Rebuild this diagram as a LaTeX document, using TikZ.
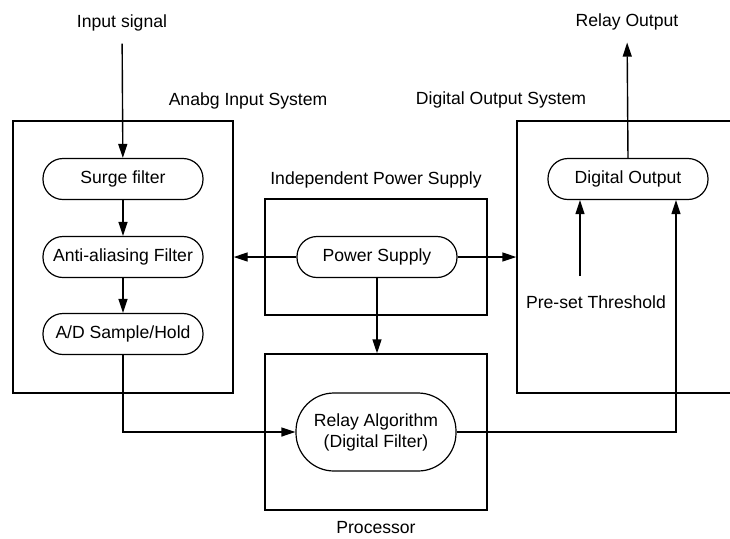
\documentclass[tikz,border=0pt]{standalone}
\usepackage{fontspec}
\setmainfont{Liberation Sans}
\usepackage{tikz}
\usetikzlibrary{arrows.meta, positioning}
\tikzstyle{stage} = [rectangle, rounded corners=10pt, minimum width=80pt, minimum height=20.5pt, inner sep=1pt, text centered, draw=black, line width=0.6pt]
\tikzstyle{unit} = [rectangle, draw=black, line width=0.7pt]
\tikzstyle{caption} = [inner sep=2pt, text centered]
\tikzstyle{arrow} = [line width=0.7pt, -{Triangle[length=7pt, width=4.5pt]}]
\tikzset{every node/.style={align=center, font=\fontsize{8.8}{10.5}\selectfont}}

\begin{document}
\begin{tikzpicture}[x=0.5pt, y=-0.5pt]
    \useasboundingbox (0,0) rectangle (730,538);
    \clip (0,0) rectangle (730,538);

    % system boxes
    \node (analog) [unit, minimum width=110pt, minimum height=136pt] at (123,257) {};
    \node (psbox) [unit, minimum width=111pt, minimum height=58pt] at (376,257) {};
    \node (proc) [unit, minimum width=111pt, minimum height=78pt] at (376,432) {};
    \node (dsys) [unit, minimum width=130pt, minimum height=136pt] at (647,257) {};

    \node (lanalog) [caption] at (248,101) {Anabg Input System};
    \node (ldsys) [caption] at (501,100) {Digital Output System};
    \node (lpsbox) [caption] at (376,180) {Independent Power Supply};
    \node (lproc) [caption] at (376,528) {Processor};

    % signal chain
    \node (insig) [caption, inner sep=6pt] at (122,23) {Input signal};
    \node (surge) [stage] at (123,179) {Surge filter};
    \node (anti) [stage] at (123,257) {Anti-aliasing Filter};
    \node (adc) [stage] at (123,334) {A/D Sample/Hold};
    \node (ps) [stage] at (377,257) {Power Supply};
    \node (relay) [stage, minimum height=39pt, rounded corners=19pt] at (376,432) {Relay Algorithm\\(Digital Filter)};
    \node (dout) [stage] at (628,179) {Digital Output};
    \node (rout) [caption, inner sep=6pt] at (627,22) {Relay Output};
    \node (thr) [caption] at (596,302) {Pre-set Threshold};

    \coordinate (th) at (580,276);
    \coordinate (fb) at (676,432);

    \draw [arrow] (insig) -- (surge);
    \draw [arrow] (surge) -- (anti);
    \draw [arrow] (anti) -- (adc);
    \draw [arrow] (adc.south) |- (relay.west);
    \draw [arrow] (ps.west) -- (ps.west -| analog.east);
    \draw [arrow] (ps.east) -- (ps.east -| dsys.west);
    \draw [arrow] (ps.south) -- (ps.south |- proc.north);
    \draw [arrow] (relay.east) -- (fb) -- (fb |- dout.south);
    \draw [arrow] (th) -- (th |- dout.south);
    \draw [arrow] (dout.north) -- (rout);
\end{tikzpicture}
\end{document}
